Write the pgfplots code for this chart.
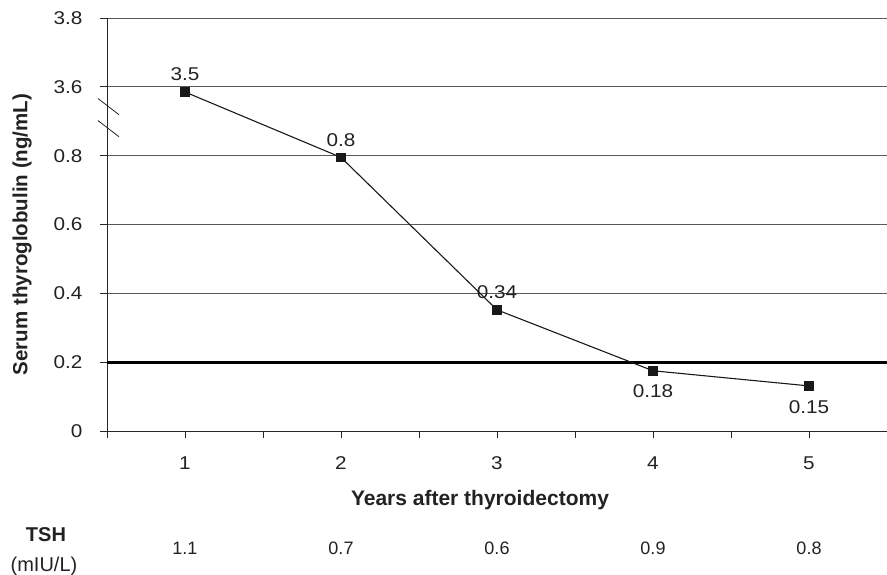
\documentclass[border=0pt]{standalone}
\usepackage{fontspec}
\setmainfont{Liberation Sans}
\newfontfamily\tickfont{Liberation Sans}[FakeStretch=1.12]
\usepackage{pgfplots}
\pgfplotsset{compat=1.18}
\definecolor{txt}{HTML}{222222}
\begin{document}
\begin{tikzpicture}[x=1pt,y=1pt]
\path[use as bounding box] (-107,-144) rectangle (780,431);
\begin{axis}[
 at={(0,0)}, anchor=south west,
 scale only axis, width=780pt, height=413pt,
 xmin=0.5, xmax=5.5, ymin=0, ymax=1.2,
 clip=false,
 axis x line*=bottom, axis y line*=left,
 xtick={1,2,3,4,5}, minor xtick={0.5,1.5,2.5,3.5,4.5},
 ytick={0,0.2,0.4,0.6,0.8,1.0,1.2},
 yticklabels={0,0.2,0.4,0.6,0.8,3.6,3.8},
 xticklabels={1,2,3,4,5},
 tick align=outside, major tick length=7pt, minor tick length=7pt,
 tick style={black!85, line width=0.8pt},
 axis line style={black!85, line width=0.9pt},
 ymajorgrids, grid style={black!65, line width=0.75pt},
 /pgf/number format/assume math mode=true,
 ticklabel style={font=\tickfont\fontsize{18.5}{21}\selectfont, text=txt},
 yticklabel style={anchor=east, xshift=-14pt},
 xticklabel style={anchor=north, yshift=-15pt},
 xlabel={\bfseries Years after thyroidectomy},
 xlabel style={font=\fontsize{21}{24}\selectfont, text=txt, at={(axis description cs:0.5,0)}, anchor=center, yshift=-69pt, xshift=-17pt},
 ylabel={\bfseries Serum thyroglobulin (ng/mL)},
 ylabel style={font=\fontsize{20.5}{24}\selectfont, text=txt, at={(axis description cs:0,0.5)}, anchor=center, yshift=85pt, xshift=-10pt},
]
\addplot[black, line width=3pt, forget plot] coordinates {(0.5,0.2) (5.5,0.2)};
\addplot[black!90, line width=1.1pt, mark=square*, mark size=4.3pt, mark options={fill=black!90, draw=black!90, solid}]
 table {
x y
1 0.985
2 0.795
3 0.352
4 0.175
5 0.131
};
\addplot[draw=none, mark=none, nodes near coords, point meta=explicit symbolic,
 nodes near coords style={anchor=south, inner sep=0pt, yshift=11pt, font=\tickfont\fontsize{18.5}{21}\selectfont, text=txt}]
 table[meta=lab] {
x y lab
1 0.985 3.5
2 0.795 0.8
3 0.352 0.34
};
\addplot[draw=none, mark=none, nodes near coords, point meta=explicit symbolic,
 nodes near coords style={anchor=north, inner sep=0pt, yshift=-14pt, font=\tickfont\fontsize{18.5}{21}\selectfont, text=txt}]
 table[meta=lab] {
x y lab
4 0.175 0.18
5 0.131 0.15
};
\draw[black!85, line width=0.8pt] (axis cs:0.442,0.966) -- (axis cs:0.577,0.919);
\draw[black!85, line width=0.8pt] (axis cs:0.442,0.902) -- (axis cs:0.577,0.855);
\begin{scope}[font=\fontsize{18}{20}\selectfont, text=txt]
\node at (axis cs:1,0) [yshift=-117pt] {1.1};
\node at (axis cs:2,0) [yshift=-117pt] {0.7};
\node at (axis cs:3,0) [yshift=-117pt] {0.6};
\node at (axis cs:4,0) [yshift=-117pt] {0.9};
\node at (axis cs:5,0) [yshift=-117pt] {0.8};
\end{scope}
\node[font=\bfseries\fontsize{20}{24}\selectfont, text=txt] at (axis cs:0.5,0) [xshift=-61pt, yshift=-104pt] {TSH};
\node[font=\fontsize{20}{24}\selectfont, text=txt] at (axis cs:0.5,0) [xshift=-63pt, yshift=-135pt] {(mIU/L)};
\end{axis}
\end{tikzpicture}
\end{document}
